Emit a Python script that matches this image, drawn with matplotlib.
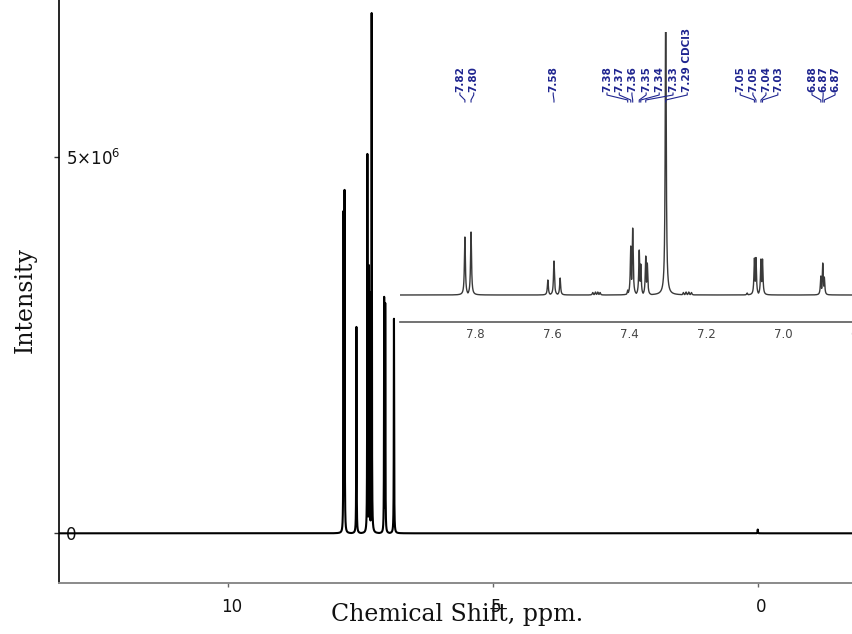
import numpy as np
import matplotlib
matplotlib.use('Agg')
import matplotlib.pyplot as plt
from matplotlib.transforms import ScaledTranslation

# ---------------- data ----------------
# main spectrum: peak positions (ppm) and intensities
main_shifts = [7.822, 7.803, 7.579, 7.372, 7.342, 7.328, 7.291, 7.055, 7.035, 6.870, 0.0]
main_heights = [4.28e6, 4.56e6, 2.74e6, 5.04e6, 3.56e6, 3.20e6, 6.91e6, 3.14e6, 3.06e6, 2.85e6, 0.05e6]
main_hwhm = 0.0035

# inset (expanded aromatic region): peak positions (ppm) and relative heights
inset_shifts = [7.828, 7.812, 7.612, 7.596, 7.580,
                7.495, 7.488, 7.482, 7.476,
                7.404, 7.396, 7.391, 7.374, 7.370, 7.357, 7.353,
                7.305,
                7.259, 7.252, 7.245, 7.238,
                7.093, 7.074, 7.070, 7.057, 7.053,
                6.901, 6.896, 6.892]
inset_heights = [58, 63, 15, 34, 17,
                 2.5, 3, 3, 2.5,
                 5, 49, 67, 45, 31, 39, 32,
                 300,
                 2.5, 3, 3, 2.5,
                 2, 37, 37.5, 36, 36,
                 19, 32, 18]
inset_hwhm = 0.0015

# peak labels in the inset: text, label position (ppm), assigned peak (ppm)
label_texts = ['7.82', '7.80', '7.58',
               '7.38', '7.37', '7.36', '7.35', '7.34', '7.33', '7.29 CDCl3',
               '7.05', '7.05', '7.04', '7.03',
               '6.88', '6.87', '6.87']
label_pos = [7.841, 7.805, 7.598,
             7.458, 7.426, 7.393, 7.356, 7.322, 7.286, 7.249,
             7.111, 7.078, 7.044, 7.013,
             6.924, 6.895, 6.864]
label_peaks = [7.828, 7.812, 7.596,
               7.404, 7.396, 7.391, 7.374, 7.370, 7.357, 7.305,
               7.074, 7.070, 7.057, 7.053,
               6.901, 6.896, 6.892]

main_xticks = [10, 5, 0]
main_yticks = [0, 5e6]
main_yticklabels = ['0', r'$5{\times}10^{6}$']
inset_xticks = [7.8, 7.6, 7.4, 7.2, 7.0, 6.8]
inset_xticklabels = ['7.8', '7.6', '7.4', '7.2', '7.0', '6.8']


def spectrum(grid, shifts, heights, hwhm):
    s = np.zeros_like(grid)
    for c, h in zip(shifts, heights):
        s = np.maximum(s, h / (1.0 + ((grid - c) / hwhm) ** 2))
    return s


W, H = 852, 634
fig = plt.figure(figsize=(W / 100, H / 100), dpi=100)

# ---------------- main axes ----------------
ax = fig.add_axes([59.3 / W, (H - 582.5) / H, (W - 59.3) / W, 582.5 / H])
xg = np.linspace(13.19, -1.78, 60001)
ax.plot(xg, spectrum(xg, main_shifts, main_heights, main_hwhm), color='black', lw=1.5)
ax.set_xlim(13.19, -1.78)
ax.set_ylim(-0.653e6, 7.08e6)
for s in ['top', 'right']:
    ax.spines[s].set_visible(False)
ax.spines['left'].set_color('black')
ax.spines['left'].set_linewidth(1.2)
ax.spines['bottom'].set_color('#8a8a8a')
ax.spines['bottom'].set_linewidth(1.4)

ax.set_xticks(main_xticks)
ax.set_xticklabels([str(t) for t in main_xticks])
ax.tick_params(axis='x', direction='out', length=3, width=1, color='#666666',
               labelsize=12, pad=8.0, labelcolor='#111111')
off = ScaledTranslation(3 / 100, 0, fig.dpi_scale_trans)
for lab in ax.get_xticklabels():
    lab.set_transform(lab.get_transform() + off)

ax.set_yticks(main_yticks)
ax.set_yticklabels(main_yticklabels)
ax.tick_params(axis='y', direction='out', length=3.6, width=1, color='#333333',
               labelsize=12, pad=-8.6, labelcolor='#111111')
for lab in ax.get_yticklabels():
    lab.set_horizontalalignment('left')

fig.text(457 / W, 1 - 615 / H, 'Chemical Shift, ppm.', family='DejaVu Serif',
         fontsize=17, ha='center', va='center', color='#111111')
fig.text(25 / W, 1 - 300 / H, 'Intensity', family='DejaVu Serif', fontsize=17,
         rotation=90, ha='center', va='center', color='#111111')

# ---------------- inset ----------------
ix0, ix1 = 400, 870
iax = fig.add_axes([ix0 / W, (H - 322) / H, (ix1 - ix0) / W, 290 / H])
iax.set_facecolor('none')
ig = np.linspace(8.0, 6.77, 12001)
iax.plot(ig, spectrum(ig, inset_shifts, inset_heights, inset_hwhm), color='#3a3a3a', lw=1.0)
iax.set_xlim(7.997, 6.773)
iax.set_ylim(-27, 263)
for s in ['top', 'right', 'left']:
    iax.spines[s].set_visible(False)
iax.spines['bottom'].set_color('#5a5a5a')
iax.spines['bottom'].set_linewidth(1.2)
iax.set_yticks([])
iax.set_xticks(inset_xticks)
iax.set_xticklabels(inset_xticklabels)
iax.tick_params(axis='x', length=0, pad=4.0, labelsize=8.5, labelcolor='#444444')

navy = '#1f2590'
for txt, lp, pk in zip(label_texts, label_pos, label_peaks):
    iax.text(lp, 203, txt, rotation=90, ha='center', va='bottom', fontsize=7.5,
             fontweight='bold', color=navy, clip_on=False)
    iax.plot([lp, lp, pk, pk], [202, 200, 195, 193], color=navy, lw=0.8,
             clip_on=False)

fig.savefig('out.png', dpi=100)
